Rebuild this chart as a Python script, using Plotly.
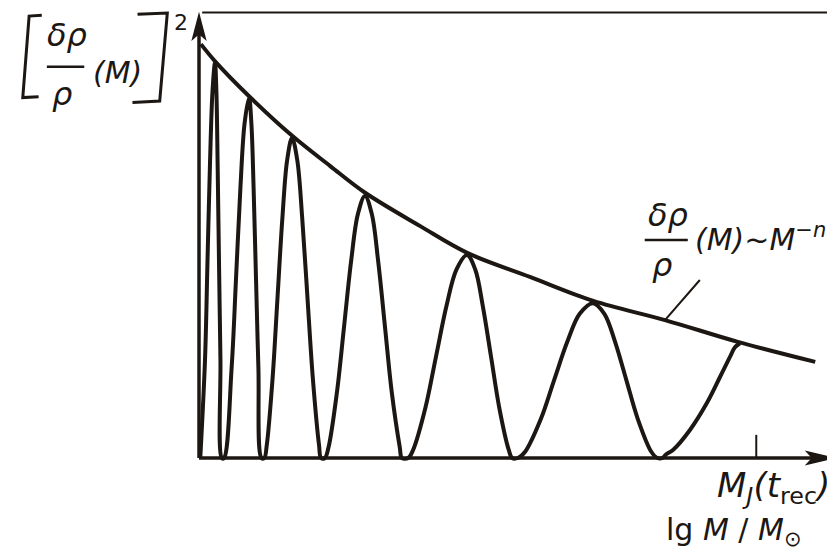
"""Sketch: squared density contrast vs. mass, oscillating below a power-law envelope."""

import plotly.graph_objects as go

INK = '#1c1713'
FONT = 'DejaVu Sans'

# oscillating spectrum [δρ/ρ(M)]^2 (x ~ lg M, y in % of axis height)
wave_x = [0.2, 0.95, 1.34, 1.74, 2.13, 2.52, 2.74, 2.93, 3.15, 3.38, 3.6, 3.95,
          5.14, 5.84, 6.53, 7.19, 7.89, 8.26, 8.61, 8.99, 9.37, 9.85, 10.3,
          10.69, 11.61, 12.38, 13.15, 13.90, 14.67, 15.50, 16.28, 17.11, 17.95, 18.93, 19.25, 19.85,
          20.43, 21.75, 22.87, 23.99, 25.06, 26.18, 27.26, 28.26, 29.34, 30.41, 31.67, 32.0, 33.0,
          33.77, 35.73, 37.38, 39.04, 40.62, 42.27, 43.56, 44.76, 46.06, 47.35, 48.86, 49.4, 50.3,
          51.44, 53.90, 55.99, 58.09, 60.05, 62.15, 63.94, 65.63, 67.43, 69.23, 71.34, 72.3, 73.1,
          73.66, 74.76, 77.44, 80.13, 82.18, 83.75, 84.54, 85.33]
wave_y = [0, 22.2, 44.4, 66.6, 82.5, 88.8, 82.5, 66.6, 44.4, 22.2, 0, 0,
          20.2, 40.4, 60.7, 75.2, 80.9, 75.2, 60.7, 40.4, 20.2, 0, 0,
          2.9, 18.0, 36.0, 53.9, 66.9, 71.9, 66.9, 53.9, 36.0, 18.0, 2.9, 0, 0,
          2.4, 14.7, 29.4, 44.2, 54.8, 58.9, 54.8, 44.2, 29.4, 14.7, 2.4, 0, 0,
          1.8, 11.4, 22.8, 34.2, 42.4, 45.6, 42.4, 34.2, 22.8, 11.4, 1.8, 0, 0,
          1.4, 8.7, 17.4, 26.1, 32.4, 34.8, 32.4, 26.1, 17.4, 8.7, 1.4, 0, 0,
          0.8, 1.8, 6.3, 12.4, 18.2, 22.7, 24.9, 25.8]

# envelope δρ/ρ(M) ~ M^-n
envelope_x = [0.3, 2.5, 7.9, 14.7, 20.7, 26.2, 34.9, 42.3, 52.2, 62.2, 73.5, 85.0, 97.2]
envelope_y = [93.0, 89.2, 81.3, 72.4, 65.6, 59.6, 52.1, 46.1, 40.7, 35.3, 31.0, 26.1, 21.6]

# M_J(t_rec) tick and the leader line to the envelope label
tick_x = 87.9
leader_x = [73.5, 79.0]
leader_y = [31.0, 40.0]

fig = go.Figure()

fig.add_trace(go.Scatter(x=envelope_x, y=envelope_y, mode='lines',
                         line=dict(color=INK, width=4, shape='spline', smoothing=1.0)))
fig.add_trace(go.Scatter(x=wave_x, y=wave_y, mode='lines',
                         line=dict(color=INK, width=4, shape='spline', smoothing=1.0)))
fig.add_trace(go.Scatter(x=leader_x, y=leader_y, mode='lines',
                         line=dict(color=INK, width=2)))
fig.add_trace(go.Scatter(x=[tick_x, tick_x], y=[0, 5.2], mode='lines',
                         line=dict(color=INK, width=2)))

# axes with arrows, plus the scan frame at top and right
shapes = [
    dict(type='line', x0=0, y0=0, x1=0, y1=96, line=dict(color=INK, width=3.5)),
    dict(type='line', x0=0, y0=0, x1=97, y1=0, line=dict(color=INK, width=3.5)),
    dict(type='path', path='M 0,99.6 L -1.0,94.2 L 0,95.4 L 1.0,94.2 Z',
         fillcolor=INK, line=dict(color=INK, width=1.5)),
    dict(type='path', path='M 100,0 L 95.9,1.4 L 96.8,0 L 95.9,-1.4 Z',
         fillcolor=INK, line=dict(color=INK, width=1.5)),
    dict(type='line', x0=0.5, y0=100.1, x1=100.4, y1=100.1, line=dict(color=INK, width=2)),
    dict(type='line', x0=100.0, y0=100.1, x1=100.0, y1=0.7, line=dict(color=INK, width=2)),
    # brackets of the y label
    dict(type='path', path='M -24.8,99.5 L -26.8,99.3 L -27.8,81.0 L -25.3,81.2',
         line=dict(color=INK, width=3)),
    dict(type='path', path='M -9.7,99.7 L -5.0,100.0 L -6.2,80.2 L -10.5,79.9',
         line=dict(color=INK, width=3)),
    # fraction bars
    dict(type='line', x0=-24.0, y0=87.9, x1=-18.1, y1=87.9, line=dict(color=INK, width=2.5)),
    dict(type='line', x0=70.3, y0=49.0, x1=77.1, y1=49.0, line=dict(color=INK, width=2.5)),
]


def label(text, x, y, size, xanchor='center'):
    return dict(text=text, x=x, y=y, xref='x', yref='y', showarrow=False,
                xanchor=xanchor, yanchor='middle',
                font=dict(family=FONT, size=size, color=INK))


annotations = [
    label('<i>δρ</i>', -20.8, 95.0, 32),
    label('<i>ρ</i>', -21.6, 81.8, 32),
    label('<i>(M)</i>', -12.8, 86.7, 30),
    label('2', -2.9, 97.9, 22),
    label('<i>δρ</i>', 74.0, 54.5, 32),
    label('<i>ρ</i>', 73.0, 43.4, 32),
    label('<i>(M)~M</i><sup>−<i>n</i></sup>', 77.9, 49.5, 30, xanchor='left'),
    label('<i>M</i><sub><i>J</i></sub><i>(t</i><sub>rec</sub><i>)</i>', 99.9, -6.7, 34, xanchor='right'),
    label('lg <i>M</i> / <i>M</i><sub>⊙</sub>', 95.4, -16.6, 30, xanchor='right'),
]

# the page body adds an 8 px offset, so the canvas is 8 px smaller and the ranges start there
fig.update_layout(
    width=827, height=550,
    margin=dict(l=0, r=0, t=0, b=0),
    paper_bgcolor='white', plot_bgcolor='white',
    showlegend=False,
    xaxis=dict(range=[-30.13, 100.32], visible=False, fixedrange=True),
    yaxis=dict(range=[-22.47, 101.12], visible=False, fixedrange=True),
    shapes=shapes,
    annotations=annotations,
)

fig.write_html("out.html")
